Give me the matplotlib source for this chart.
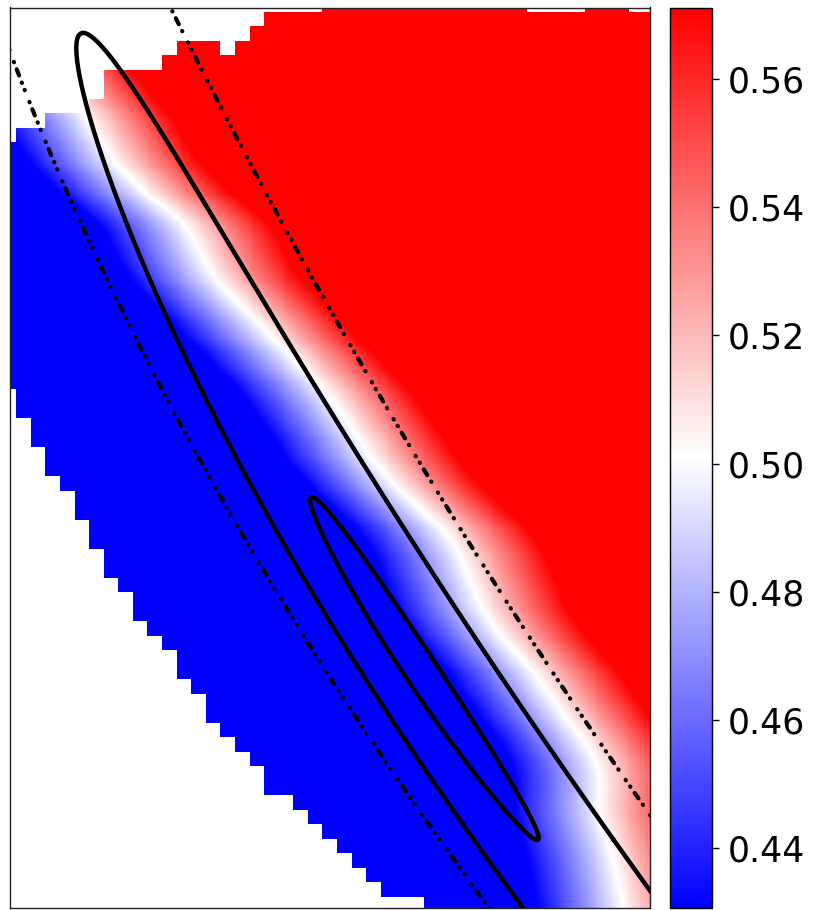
import numpy as np
import matplotlib
matplotlib.use("Agg")
import matplotlib.pyplot as plt

# ---- grid -----------------------------------------------------------------
n_rows, n_cols = 63, 45

# column (grid units) at which the field passes through 0.5, one per row
crossing_col = [
    -1.4, -0.6, 0.3, 1.2, 2.0, 2.9, 3.7, 4.6, 5.4, 6.0,
    6.6, 7.3, 8.3, 9.3, 10.6, 11.8, 12.5, 13.0, 13.5, 14.2,
    15.1, 16.1, 17.1, 18.0, 19.1, 20.0, 21.0, 21.9, 22.6, 23.3,
    24.0, 24.6, 25.4, 26.3, 27.3, 28.4, 29.5, 30.3, 30.9, 31.3,
    31.7, 32.1, 32.6, 33.3, 34.1, 35.0, 35.9, 36.6, 37.3, 38.0,
    38.8, 39.5, 40.1, 40.4, 40.5, 40.4, 40.5, 40.8, 41.1, 41.4,
    41.6, 41.8, 42.0,
]
# change of the field per grid column across the transition band
gradient_per_col = 0.012

# first row holding data, one per column (cells above are empty)
first_valid_row = [
    10, 9, 9, 8, 8, 8, 7, 5, 5, 5,
    5, 4, 3, 3, 3, 4, 3, 2, 1, 1,
    1, 1, 0, 0, 0, 0, 0, 0, 0, 0,
    0, 0, 0, 0, 0, 0, 1, 1, 1, 1,
    0, 0, 0, 1, 1,
]
# first column holding data, one per row (cells to the left are empty)
first_valid_col = [0] * 27 + [
    1, 1, 2, 2, 3, 3, 4, 5, 5, 6,
    6, 7, 7, 8, 9, 9, 10, 11, 12, 12,
    13, 14, 14, 15, 16, 17, 18, 18, 20, 21,
    22, 23, 24, 25, 26, 29,
]

# colour scale
vmin, vmax = 0.4306, 0.5712
cbar_ticks = [0.44, 0.46, 0.48, 0.50, 0.52, 0.54, 0.56]

# contour ellipses, given in a sheared frame (u, row): centre and two
# conjugate semi-diameters; column = u + bend * (row - bend_row) ** 2
bend = 0.00248
bend_row = 41.0
outer_center = (36.07, 57.58)
outer_semi_h = (4.80, 0.0)
outer_semi_d = (-34.73, -55.66)
inner_center = (28.16, 45.76)
inner_semi_h = (1.34, 0.0)
inner_semi_d = (-7.45, -11.83)
wide_center = (36.75, 57.58)
wide_scale = 1.63  # dash-dotted contour, scaled copy of the outer one

# ---- field ------------------------------------------------------------------
cols = np.arange(n_cols)
rows = np.arange(n_rows)
field = 0.5 + gradient_per_col * (cols[None, :] - np.asarray(crossing_col)[:, None])
mask = (rows[:, None] < np.asarray(first_valid_row)[None, :]) | \
       (cols[None, :] < np.asarray(first_valid_col)[:, None])

# bilinear refinement of the cell values, blocky mask kept per cell
k = 15
xf = (np.arange(n_cols * k) + 0.5) / k - 0.5
yf = (np.arange(n_rows * k) + 0.5) / k - 0.5
along_x = np.array([np.interp(xf, cols, r) for r in field])
fine = np.array([np.interp(yf, rows, along_x[:, j]) for j in range(along_x.shape[1])]).T
fine_mask = np.repeat(np.repeat(mask, k, axis=0), k, axis=1)
image = np.ma.masked_array(fine, fine_mask)

# ---- figure -----------------------------------------------------------------
W, H = 832, 910
fig = plt.figure(figsize=(W / 100, H / 100), dpi=100)
ax = fig.add_axes([9.5 / W, 2 / H, 640.5 / W, 900.5 / H])
cax = fig.add_axes([670 / W, 2 / H, 42 / W, 900.5 / H])

im = ax.imshow(image, cmap="bwr", vmin=vmin, vmax=vmax,
               extent=(-0.5, n_cols - 0.5, n_rows - 0.5, -0.5),
               interpolation="nearest", aspect="auto")


def ellipse(center, semi_h, semi_d, scale=1.0, n=1500):
    t = np.linspace(0, 2 * np.pi, n)
    u = center[0] + scale * (np.cos(t) * semi_h[0] + np.sin(t) * semi_d[0])
    r = center[1] + scale * (np.cos(t) * semi_h[1] + np.sin(t) * semi_d[1])
    return u + bend * (r - bend_row) ** 2, r


x, y = ellipse(outer_center, outer_semi_h, outer_semi_d)
ax.plot(x, y, color="black", lw=3.2, solid_capstyle="round")
x, y = ellipse(inner_center, inner_semi_h, inner_semi_d)
ax.plot(x, y, color="black", lw=3.2, solid_capstyle="round")
x, y = ellipse(wide_center, outer_semi_h, outer_semi_d, scale=wide_scale)
ax.plot(x, y, color="black", lw=3.0, dash_capstyle="round",
        linestyle=(0, (0.1, 1.8, 1.6, 1.8, 0.1, 1.8, 0.1, 3.0)))

ax.set_xlim(0.07, 44.04)
ax.set_ylim(62.27, 0.17)
ax.set_xticks([])
ax.set_yticks([])
for s in ax.spines.values():
    s.set_linewidth(1.0)
    s.set_color("#222222")

cb = fig.colorbar(im, cax=cax, ticks=cbar_ticks)
cb.ax.set_yticklabels([f"{v:.2f}" for v in cbar_ticks])
cb.ax.tick_params(labelsize=25, length=5, width=1, pad=6)
cb.outline.set_linewidth(1.0)

fig.savefig("out.png", dpi=100)
